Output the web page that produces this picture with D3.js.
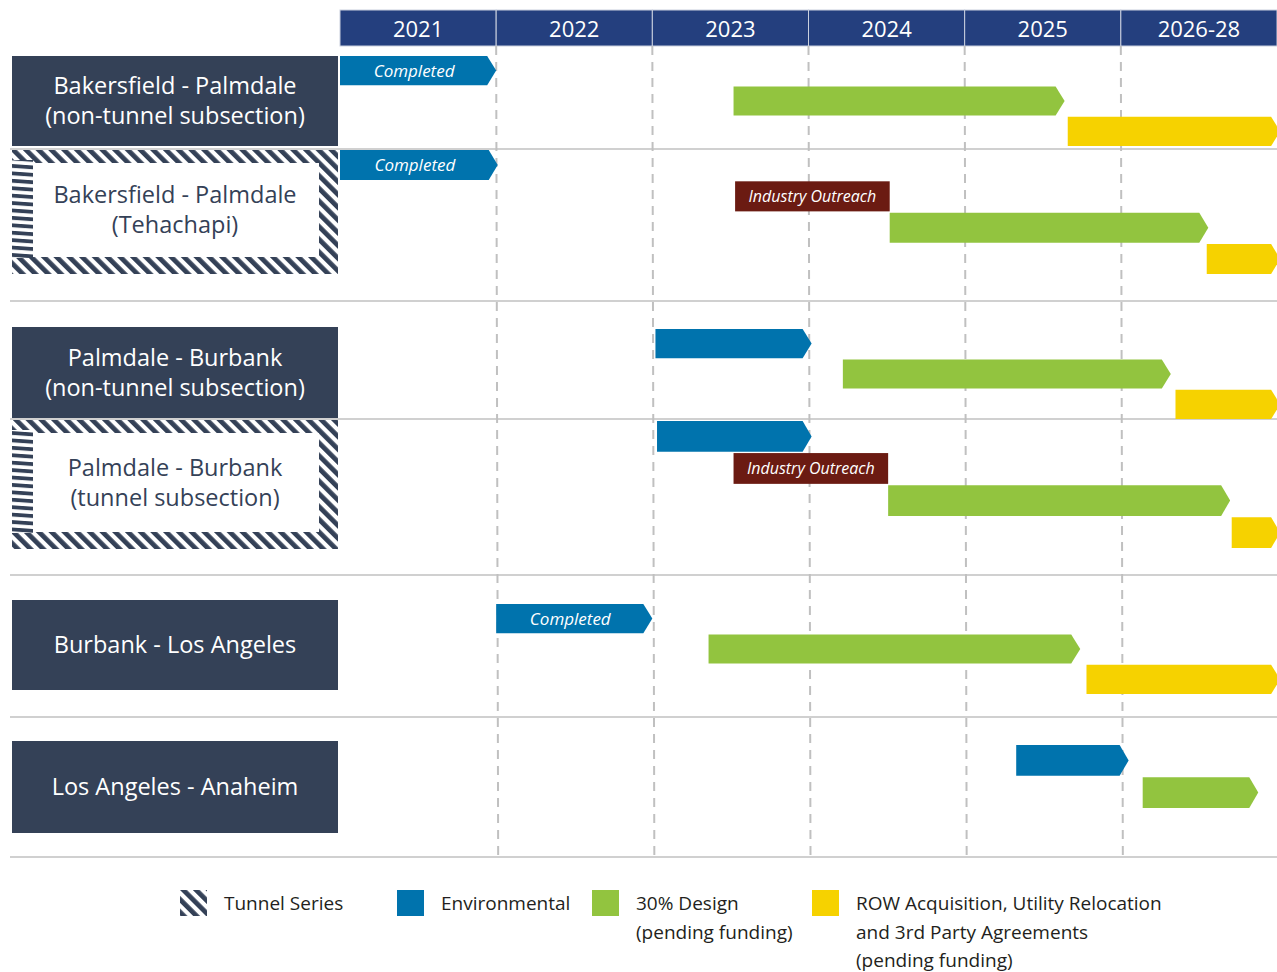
<!DOCTYPE html>
<html>
<head>
<meta charset="utf-8">
<script src="https://cdn.jsdelivr.net/npm/d3@7"></script>
<style>
  body { margin: 0; background: #fff; }
  text { font-family: "Open Sans", "Noto Sans", sans-serif; }
</style>
</head>
<body>
<div id="container"></div>
<script>
// ---- data ----
let years = ["2021", "2022", "2023", "2024", "2025", "2026-28"];
let segments = ["Bakersfield - Palmdale|(non-tunnel subsection)",
                "Bakersfield - Palmdale|(Tehachapi)",
                "Palmdale - Burbank|(non-tunnel subsection)",
                "Palmdale - Burbank|(tunnel subsection)",
                "Burbank - Los Angeles",
                "Los Angeles - Anaheim"];
let tunnel = [false, true, false, true, false, false];

// [start, end] in years (2026-28 column counts as one year)
let environmental = [[2021.0, 2022.0], [2021.0, 2022.01], [2023.02, 2024.02], [2023.03, 2024.02], [2022.0, 2023.0], [2025.33, 2026.05]];
let envCompleted = [true, true, false, false, true, false];
let outreach = [null, [2023.53, 2024.52], null, [2023.52, 2024.51], null, null];
let design = [[2023.52, 2025.64], [2024.52, 2026.56], [2024.22, 2026.32], [2024.51, 2026.7], [2023.36, 2025.74], [2026.14, 2026.88]];
let rowAcq = [[2025.66, 2027.02], [2026.55, 2027.02], [2026.35, 2027.02], [2026.71, 2027.02], [2025.78, 2027.02], null];

let legendItems = [
  {key: "tunnel", lines: ["Tunnel Series"]},
  {key: "env", lines: ["Environmental"]},
  {key: "design", lines: ["30% Design", "(pending funding)"]},
  {key: "row", lines: ["ROW Acquisition, Utility Relocation", "and 3rd Party Agreements", "(pending funding)"]}
];

// ---- layout ----
let W = 1277, H = 972;
let colors = {env: "#0073ad", design: "#92c43f", row: "#f6d200", outreach: "#6b1b12",
              header: "#243f7e", label: "#344157", grid: "#c0c0c0"};
// label boxes and bar areas per row (pixels)
let labelBox = [[56, 146], [150, 274], [327, 418], [420, 549], [600, 690], [741, 833]];
let barArea = [[56, 146], [150, 274], [329, 419], [421, 548], [604, 694], [745, 808]];
let separators = [149, 301, 419, 575, 717, 857];

let svg = d3.select("#container").append("svg")
    .attr("width", W)
    .attr("height", H);

let x = d3.scaleLinear().domain([2021, 2027]).range([340, 1277]);

let defs = svg.append("defs");
let diag = defs.append("pattern")
    .attr("id", "diag")
    .attr("patternUnits", "userSpaceOnUse")
    .attr("width", 9).attr("height", 9)
    .attr("patternTransform", "rotate(-45)");
diag.append("rect").attr("width", 9).attr("height", 9).attr("fill", "#fff");
diag.append("rect").attr("width", 4.8).attr("height", 9).attr("fill", colors.label);

let horiz = defs.append("pattern")
    .attr("id", "horiz")
    .attr("patternUnits", "userSpaceOnUse")
    .attr("width", 8).attr("height", 7.4)
    .attr("patternTransform", "rotate(4)");
horiz.append("rect").attr("width", 8).attr("height", 7.4).attr("fill", "#fff");
horiz.append("rect").attr("width", 8).attr("height", 3.8).attr("fill", colors.label);

// header
let header = svg.append("g");
header.selectAll("rect").data(years).enter().append("rect")
    .attr("x", (d, i) => x(2021 + i))
    .attr("y", 10)
    .attr("width", (d, i) => x(2022 + i) - x(2021 + i))
    .attr("height", 36)
    .attr("fill", colors.header)
    .attr("stroke", "#c9d0de")
    .attr("stroke-width", 1);
header.selectAll("text").data(years).enter().append("text")
    .attr("x", (d, i) => (x(2021 + i) + x(2022 + i)) / 2)
    .attr("y", 37)
    .attr("text-anchor", "middle")
    .attr("fill", "#fff")
    .attr("font-size", 22)
    .text(d => d);

// separators
svg.append("g").selectAll("line").data(separators).enter().append("line")
    .attr("x1", 10).attr("x2", W)
    .attr("y1", d => d).attr("y2", d => d)
    .attr("stroke", colors.grid)
    .attr("stroke-width", 1.3);

// dashed year grid
svg.append("g").selectAll("line").data(d3.range(2022, 2027)).enter().append("line")
    .attr("x1", d => x(d)).attr("x2", d => x(d) + 2)
    .attr("y1", 46).attr("y2", 857)
    .attr("stroke", colors.grid)
    .attr("stroke-width", 2)
    .attr("stroke-dasharray", "9,7");

// row labels
let labels = svg.append("g").selectAll("g").data(segments).enter().append("g");
labels.each(function(d, i) {
  let g = d3.select(this);
  let y0 = labelBox[i][0], y1 = labelBox[i][1];
  let lines = d.split("|");
  if (tunnel[i]) {
    g.append("rect").attr("x", 12).attr("y", y0).attr("width", 326).attr("height", y1 - y0)
        .attr("fill", "url(#diag)");
    g.append("rect").attr("x", 12).attr("y", y0 + 10).attr("width", 21).attr("height", y1 - y0 - 26)
        .attr("fill", "url(#horiz)");
    g.append("rect").attr("x", 33).attr("y", y0 + 13).attr("width", 286).attr("height", y1 - y0 - 30)
        .attr("fill", "#fff");
  } else {
    g.append("rect").attr("x", 12).attr("y", y0).attr("width", 326).attr("height", y1 - y0)
        .attr("fill", colors.label);
  }
  let cy = tunnel[i] ? y0 + 13 + (y1 - y0 - 30) / 2 : (y0 + y1) / 2;
  let lh = 30;
  g.selectAll("text").data(lines).enter().append("text")
      .attr("x", 175)
      .attr("y", (t, j) => cy + (j - (lines.length - 1) / 2) * lh + 8)
      .attr("text-anchor", "middle")
      .attr("fill", tunnel[i] ? colors.label : "#fff")
      .attr("font-size", 23.5)
      .text(t => t);
});

function arrow(x0, x1, y0, y1) {
  let tip = 9;
  return "M" + x0 + "," + y0 + "H" + (x1 - tip) + "L" + x1 + "," + ((y0 + y1) / 2) +
         "L" + (x1 - tip) + "," + y1 + "H" + x0 + "Z";
}

// bars
let bars = svg.append("g");
segments.forEach(function(s, i) {
  let lanes = ["env"];
  if (outreach[i]) lanes.push("outreach");
  lanes.push("design");
  if (rowAcq[i]) lanes.push("row");
  let y = d3.scaleBand().domain(lanes).range(barArea[i]).paddingInner(0.04);

  let items = [
    {key: "env", v: environmental[i]},
    {key: "outreach", v: outreach[i]},
    {key: "design", v: design[i]},
    {key: "row", v: rowAcq[i]}
  ].filter(d => d.v);

  items.forEach(function(d) {
    let y0 = y(d.key), y1 = y(d.key) + y.bandwidth();
    if (d.key === "outreach") {
      bars.append("rect")
          .attr("x", x(d.v[0])).attr("y", y0)
          .attr("width", x(d.v[1]) - x(d.v[0])).attr("height", y1 - y0)
          .attr("fill", colors.outreach);
      bars.append("text")
          .attr("x", (x(d.v[0]) + x(d.v[1])) / 2).attr("y", (y0 + y1) / 2 + 6)
          .attr("text-anchor", "middle")
          .attr("fill", "#fff")
          .attr("font-size", 16)
          .attr("font-style", "italic")
          .text("Industry Outreach");
    } else {
      bars.append("path")
          .attr("d", arrow(x(d.v[0]), x(d.v[1]), y0, y1))
          .attr("fill", colors[d.key]);
      if (d.key === "env" && envCompleted[i]) {
        bars.append("text")
            .attr("x", (x(d.v[0]) + x(d.v[1]) - 8) / 2).attr("y", (y0 + y1) / 2 + 6)
            .attr("text-anchor", "middle")
            .attr("fill", "#fff")
            .attr("font-size", 17)
            .attr("font-style", "italic")
            .text("Completed");
      }
    }
  });
});

// legend
let legendX = [180, 397, 592, 812];
let legend = svg.append("g").selectAll("g").data(legendItems).enter().append("g")
    .attr("transform", (d, i) => "translate(" + legendX[i] + ",890)");
legend.append("rect")
    .attr("width", 27).attr("height", 26)
    .attr("fill", d => d.key === "tunnel" ? "url(#diag)" : colors[d.key]);
legend.each(function(d) {
  d3.select(this).selectAll("text").data(d.lines).enter().append("text")
      .attr("x", 44)
      .attr("y", (t, j) => 20 + j * 28.5)
      .attr("fill", "#231f20")
      .attr("font-size", 19)
      .text(t => t);
});
</script>
</body>
</html>
